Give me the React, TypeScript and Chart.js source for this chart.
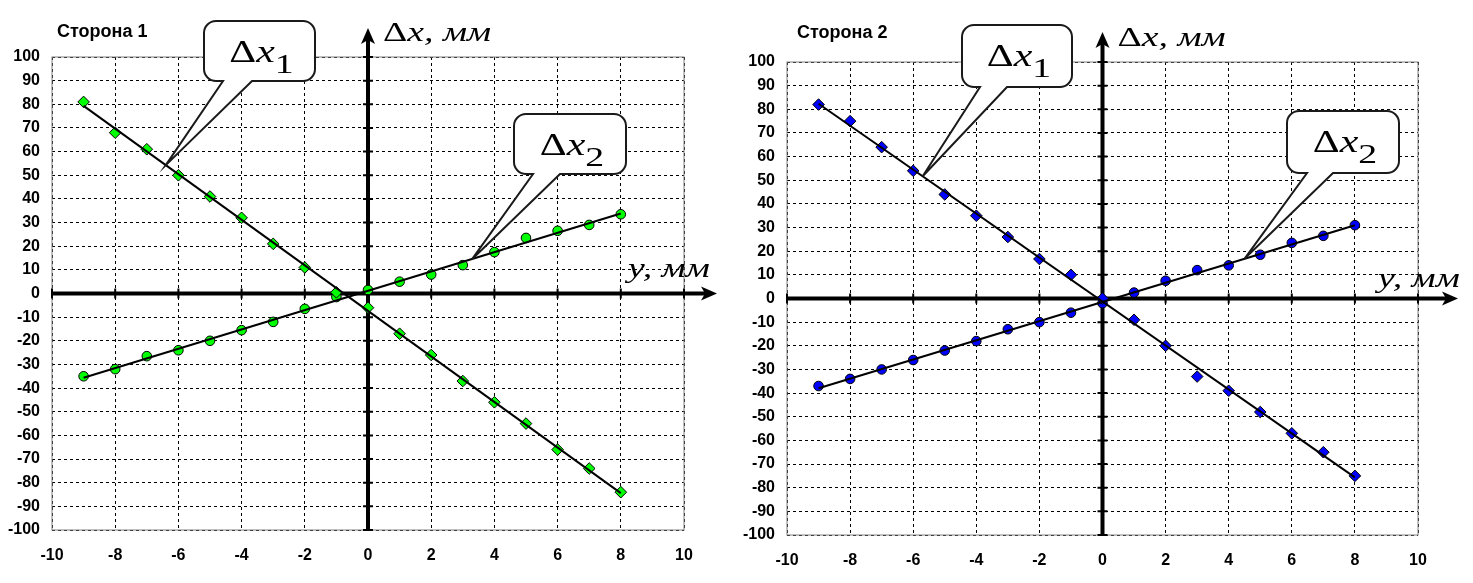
import React, { useRef, useEffect } from 'react';
import { Chart, registerables } from 'chart.js';

Chart.register(...registerables);

// horizontal axis: y, мм
const yPositions = [-9, -8, -7, -6, -5, -4, -3, -2, -1, 0, 1, 2, 3, 4, 5, 6, 7, 8];

// vertical axis: Δx, мм
const side1Dx1 = [81, 68, 61, 50, 41, 32, 21, 11, 0.5, -6, -17, -26, -37, -46, -55, -66, -74, -84];
const side1Dx2 = [-35, -32, -26.5, -24, -20, -15.5, -12, -6.5, -1.5, 1.5, 5, 8, 12, 17.5, 23.5, 26.5, 29, 33.5];
const side2Dx1 = [82, 75, 64, 54, 44, 35, 26, 16.7, 10, 0, -9, -20, -33, -39, -48, -57, -65, -75];
const side2Dx2 = [-37, -34, -30, -26, -22, -18, -13, -10, -6, -2, 2.5, 7.5, 12, 14, 18.5, 23.5, 26.5, 31];

const xTickValues = [-10, -8, -6, -4, -2, 0, 2, 4, 6, 8, 10];
const yTickValues = [-100, -90, -80, -70, -60, -50, -40, -30, -20, -10, 0, 10, 20, 30, 40, 50, 60, 70, 80, 90, 100];

const SERIF = '"Liberation Serif", "Times New Roman", serif';
const SANS = '"Liberation Sans", Arial, sans-serif';
const STRETCH = 1.35; // the serif labels in the picture are drawn wide

// least squares line, like the Excel trendline
function linearFit(xs: number[], ys: number[]) {
  const n = xs.length;
  const mx = xs.reduce((s, v) => s + v, 0) / n;
  const my = ys.reduce((s, v) => s + v, 0) / n;
  let sxy = 0;
  let sxx = 0;
  for (let i = 0; i < n; i++) {
    sxy += (xs[i] - mx) * (ys[i] - my);
    sxx += (xs[i] - mx) * (xs[i] - mx);
  }
  const b = sxy / sxx;
  return { a: my - b * mx, b };
}

type Run = { text: string; font: string; dy?: number };

function runsWidth(ctx: CanvasRenderingContext2D, runs: Run[]) {
  let w = 0;
  runs.forEach(r => {
    ctx.font = r.font;
    w += ctx.measureText(r.text).width;
  });
  return w * STRETCH;
}

function drawRuns(ctx: CanvasRenderingContext2D, runs: Run[], x: number, y: number) {
  ctx.save();
  ctx.translate(x, y);
  ctx.scale(STRETCH, 1);
  ctx.fillStyle = '#000';
  ctx.textBaseline = 'alphabetic';
  ctx.textAlign = 'left';
  let cx = 0;
  runs.forEach(r => {
    ctx.font = r.font;
    ctx.fillText(r.text, cx, r.dy || 0);
    cx += ctx.measureText(r.text).width;
  });
  ctx.restore();
}

function arrowHead(ctx: CanvasRenderingContext2D, x: number, y: number, dir: 'up' | 'right') {
  const len = 16;
  const half = 7;
  const notch = 4;
  ctx.beginPath();
  if (dir === 'up') {
    ctx.moveTo(x, y);
    ctx.lineTo(x + half, y + len);
    ctx.lineTo(x, y + len - notch);
    ctx.lineTo(x - half, y + len);
  } else {
    ctx.moveTo(x, y);
    ctx.lineTo(x - len, y - half);
    ctx.lineTo(x - len + notch, y);
    ctx.lineTo(x - len, y + half);
  }
  ctx.closePath();
  ctx.fill();
}

interface Callout {
  sub: string;
  series: 'dx1' | 'dx2';
  tipX: number;
  box: [number, number, number, number]; // x, y, w, h in canvas px
  base: [number, number];
}

interface SideConfig {
  title: string;
  color: string;
  dx1: number[];
  dx2: number[];
  width: number;
  area: { left: number; top: number; right: number; bottom: number };
  titlePos: [number, number];
  xArrowExt: number;
  yArrowExt: number;
  yLabelPos: [number, number];
  callouts: Callout[];
}

const sides: SideConfig[] = [
  {
    title: 'Сторона 1',
    color: '#00ff00',
    dx1: side1Dx1,
    dx2: side1Dx2,
    width: 735,
    area: { left: 52, top: 57, right: 684, bottom: 530 },
    titlePos: [57, 37],
    xArrowExt: 33,
    yArrowExt: 29,
    yLabelPos: [628, 277],
    callouts: [
      { sub: '1', series: 'dx1', tipX: -6.4, box: [204, 21, 111, 60], base: [223, 252] },
      { sub: '2', series: 'dx2', tipX: 3.3, box: [514, 114, 112, 60], base: [533, 560] },
    ],
  },
  {
    title: 'Сторона 2',
    color: '#0000ff',
    dx1: side2Dx1,
    dx2: side2Dx2,
    width: 738,
    area: { left: 52, top: 62, right: 683, bottom: 535 },
    titlePos: [62, 38],
    xArrowExt: 40,
    yArrowExt: 30,
    yLabelPos: [643, 287],
    callouts: [
      { sub: '1', series: 'dx1', tipX: -5.7, box: [227, 25, 110, 62], base: [245, 272] },
      { sub: '2', series: 'dx2', tipX: 4.5, box: [552, 111, 112, 62], base: [572, 598] },
    ],
  },
];

const SidePlot: React.FC<{ cfg: SideConfig }> = ({ cfg }) => {
  const canvasRef = useRef<HTMLCanvasElement>(null);
  const chartRef = useRef<Chart | null>(null);

  useEffect(() => {
    if (!canvasRef.current) return;
    const fits = {
      dx1: linearFit(yPositions, cfg.dx1),
      dx2: linearFit(yPositions, cfg.dx2),
    };
    const first = yPositions[0];
    const last = yPositions[yPositions.length - 1];
    const trend = (f: { a: number; b: number }) => [
      { x: first, y: f.a + f.b * first },
      { x: last, y: f.a + f.b * last },
    ];
    const points = (vals: number[]) => yPositions.map((p, i) => ({ x: p, y: vals[i] }));

    const decorations = {
      id: 'decorations',
      beforeDatasetsDraw(chart: Chart) {
        const { ctx, chartArea: a } = chart;
        const xs = chart.scales.x;
        const ys = chart.scales.y;
        const x0 = xs.getPixelForValue(0);
        const y0 = ys.getPixelForValue(0);
        ctx.save();
        // plot frame
        ctx.strokeStyle = '#808080';
        ctx.lineWidth = 1;
        ctx.strokeRect(a.left, a.top, a.right - a.left, a.bottom - a.top);
        // axes through zero
        ctx.strokeStyle = '#000';
        ctx.fillStyle = '#000';
        ctx.lineWidth = 4;
        ctx.beginPath();
        ctx.moveTo(x0, a.bottom);
        ctx.lineTo(x0, a.top - cfg.yArrowExt + 8);
        ctx.moveTo(a.left, y0);
        ctx.lineTo(a.right + cfg.xArrowExt - 8, y0);
        ctx.stroke();
        arrowHead(ctx, x0, a.top - cfg.yArrowExt, 'up');
        arrowHead(ctx, a.right + cfg.xArrowExt, y0, 'right');
        // small tick marks on the axes
        ctx.lineWidth = 2;
        ctx.beginPath();
        yTickValues.forEach(v => {
          const py = ys.getPixelForValue(v);
          ctx.moveTo(x0 - 5, py);
          ctx.lineTo(x0 + 5, py);
        });
        xTickValues.forEach(v => {
          const px = xs.getPixelForValue(v);
          ctx.moveTo(px, y0 - 5);
          ctx.lineTo(px, y0 + 5);
        });
        ctx.stroke();
        ctx.restore();
      },
      afterDraw(chart: Chart) {
        const { ctx, chartArea: a } = chart;
        const xs = chart.scales.x;
        const ys = chart.scales.y;
        const x0 = xs.getPixelForValue(0);
        ctx.save();
        // title
        ctx.fillStyle = '#000';
        ctx.font = 'bold 18px ' + SANS;
        ctx.textBaseline = 'alphabetic';
        ctx.fillText(cfg.title, cfg.titlePos[0], cfg.titlePos[1]);
        // axis names
        drawRuns(ctx, [
          { text: 'Δ', font: '28px ' + SERIF },
          { text: 'x, мм', font: 'italic 28px ' + SERIF },
        ], x0 + 15, a.top - 16.5);
        drawRuns(ctx, [{ text: 'y, мм', font: 'italic 28px ' + SERIF }], cfg.yLabelPos[0], cfg.yLabelPos[1]);
        // callouts
        cfg.callouts.forEach(c => {
          const f = fits[c.series];
          const tx = xs.getPixelForValue(c.tipX);
          const ty = ys.getPixelForValue(f.a + f.b * c.tipX);
          const [bx, by, bw, bh] = c.box;
          const r = 12;
          ctx.beginPath();
          ctx.moveTo(bx + r, by);
          ctx.lineTo(bx + bw - r, by);
          ctx.arcTo(bx + bw, by, bx + bw, by + r, r);
          ctx.lineTo(bx + bw, by + bh - r);
          ctx.arcTo(bx + bw, by + bh, bx + bw - r, by + bh, r);
          ctx.lineTo(c.base[1], by + bh);
          ctx.lineTo(tx, ty);
          ctx.lineTo(c.base[0], by + bh);
          ctx.lineTo(bx + r, by + bh);
          ctx.arcTo(bx, by + bh, bx, by + bh - r, r);
          ctx.lineTo(bx, by + r);
          ctx.arcTo(bx, by, bx + r, by, r);
          ctx.closePath();
          ctx.fillStyle = '#fff';
          ctx.fill();
          ctx.strokeStyle = '#1a1a1a';
          ctx.lineWidth = 2;
          ctx.lineJoin = 'miter';
          ctx.stroke();
          const runs: Run[] = [
            { text: 'Δ', font: '31px ' + SERIF },
            { text: 'x', font: 'italic 31px ' + SERIF },
            { text: c.sub, font: '28px ' + SERIF, dy: 11 },
          ];
          const w = runsWidth(ctx, runs);
          drawRuns(ctx, runs, bx + (bw - w) / 2 + 2, by + 41);
        });
        ctx.restore();
      },
    };

    const markerBase = {
      backgroundColor: cfg.color,
      borderColor: '#000',
      borderWidth: 1,
      showLine: false,
      order: 1,
    };
    const trendBase = {
      borderColor: '#000',
      borderWidth: 2,
      pointRadius: 0,
      showLine: true,
      order: 0,
    };

    chartRef.current = new Chart(canvasRef.current, {
      type: 'scatter',
      data: {
        datasets: [
          { ...trendBase, label: 'Δx1 trend', data: trend(fits.dx1) },
          { ...trendBase, label: 'Δx2 trend', data: trend(fits.dx2) },
          { ...markerBase, label: 'Δx1', data: points(cfg.dx1), pointStyle: 'rectRot', pointRadius: 5.8 },
          { ...markerBase, label: 'Δx2', data: points(cfg.dx2), pointStyle: 'circle', pointRadius: 4.8 },
        ],
      },
      options: {
        animation: false,
        responsive: true,
        maintainAspectRatio: false,
        events: [],
        layout: {
          padding: { left: 0, top: cfg.area.top, right: cfg.width - cfg.area.right, bottom: 0 },
        },
        plugins: {
          legend: { display: false },
          tooltip: { enabled: false },
        },
        scales: {
          x: {
            type: 'linear',
            min: -10,
            max: 10,
            afterBuildTicks: (s: any) => {
              s.ticks = xTickValues.map(v => ({ value: v }));
            },
            afterFit: (s: any) => {
              s.height = 583 - cfg.area.bottom;
            },
            grid: { color: '#000', lineWidth: 1, drawTicks: false },
            border: { display: false, dash: [3, 3] },
            ticks: {
              color: '#000',
              padding: 16,
              maxRotation: 0,
              autoSkip: false,
              font: { family: SANS, weight: 'bold', size: 16 },
            },
          },
          y: {
            type: 'linear',
            min: -100,
            max: 100,
            afterBuildTicks: (s: any) => {
              s.ticks = yTickValues.map(v => ({ value: v }));
            },
            afterFit: (s: any) => {
              s.width = cfg.area.left;
            },
            grid: { color: '#000', lineWidth: 1, drawTicks: false },
            border: { display: false, dash: [3, 3] },
            ticks: {
              color: '#000',
              padding: 12,
              autoSkip: false,
              font: { family: SANS, weight: 'bold', size: 16 },
            },
          },
        },
      },
      plugins: [decorations],
    } as any);

    return () => {
      if (chartRef.current) {
        chartRef.current.destroy();
        chartRef.current = null;
      }
    };
  }, [cfg]);

  return (
    <div style={{ position: 'relative', width: cfg.width + 'px', height: '583px' }}>
      <canvas ref={canvasRef} />
    </div>
  );
};

const App: React.FC = () => {
  useEffect(() => {
    document.body.style.margin = '0';
    document.body.style.background = '#fff';
  }, []);

  return (
    <div style={{ display: 'flex', width: '1473px', height: '583px', background: '#fff' }}>
      {sides.map(s => (
        <SidePlot key={s.title} cfg={s} />
      ))}
    </div>
  );
};

export default App;
